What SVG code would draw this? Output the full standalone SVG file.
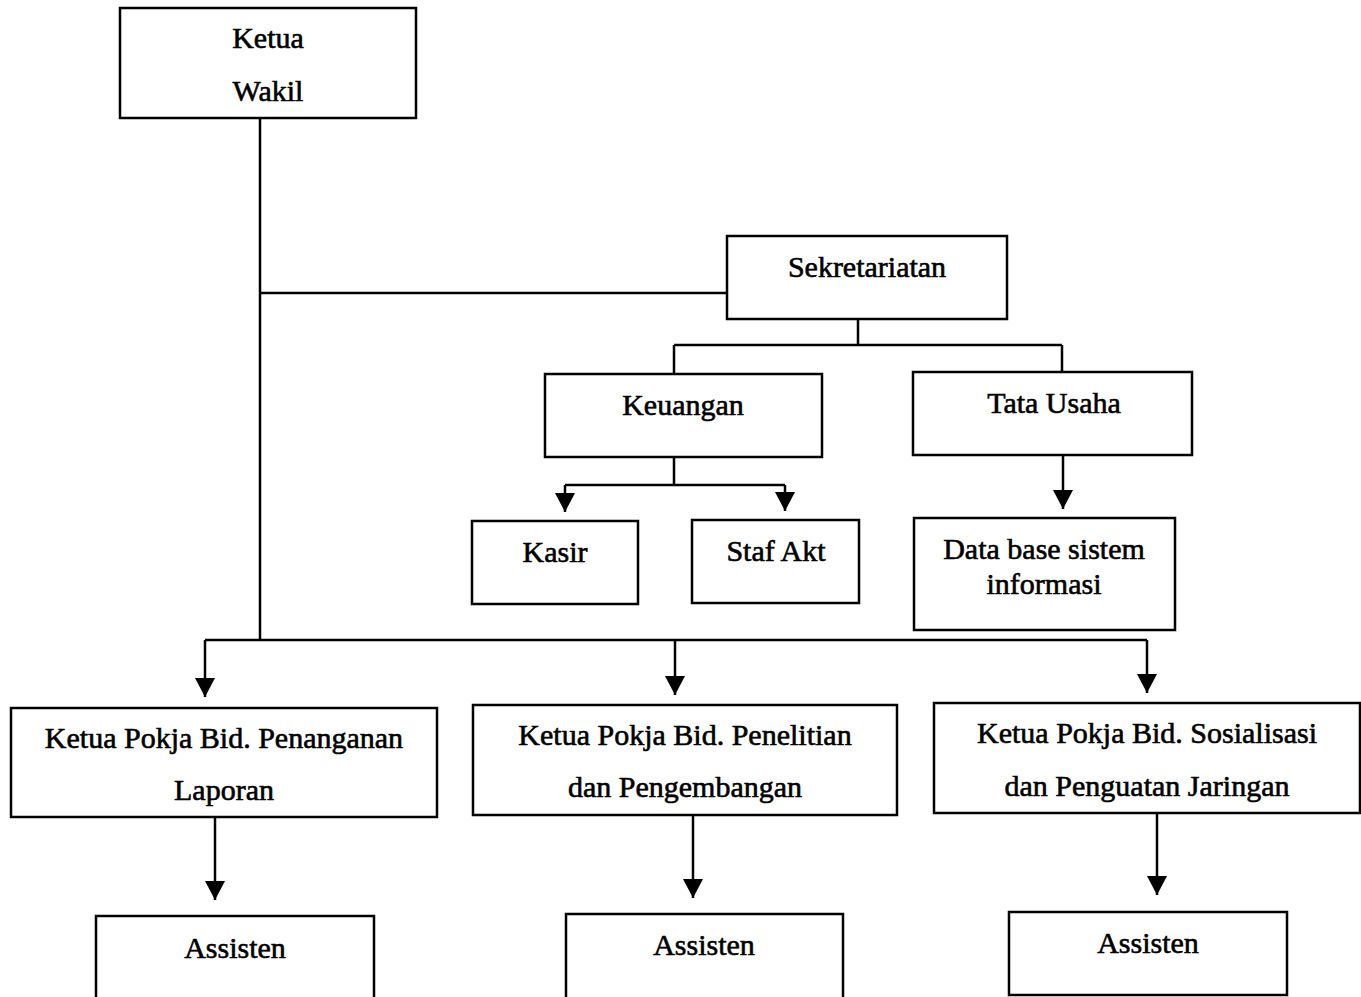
<svg xmlns="http://www.w3.org/2000/svg" width="1361" height="997" viewBox="0 0 1361 997">
<style>
.box{fill:#fff;stroke:#000;stroke-width:2.5}
.t{font-family:"Liberation Serif","Times New Roman",serif;font-size:30px;fill:#000;stroke:#000;stroke-width:0.6;text-anchor:middle}
.c{fill:none;stroke:#000;stroke-width:2.5}
</style>
<defs>
<marker id="ah" markerUnits="userSpaceOnUse" markerWidth="19" markerHeight="20" refX="19" refY="10" orient="auto" viewBox="0 0 19 20">
<path d="M0,0 L19,10 L0,20 z" fill="#000"/>
</marker>
</defs>
<rect width="1361" height="997" fill="#fff"/>
<g id="connectors">
<path class="c" d="M260,118 V640"/>
<path class="c" d="M260,293 H727"/>
<path class="c" d="M858,319 V345 M674,345 H1062 M674,345 V374 M1062,345 V372"/>
<path class="c" d="M674,457 V485 M565,485 H785"/>
<path class="c" d="M565,485 V512" marker-end="url(#ah)"/>
<path class="c" d="M785,485 V511" marker-end="url(#ah)"/>
<path class="c" d="M1063,455 V509" marker-end="url(#ah)"/>
<path class="c" d="M205,640 H1147"/>
<path class="c" d="M205,640 V697" marker-end="url(#ah)"/>
<path class="c" d="M675,640 V695" marker-end="url(#ah)"/>
<path class="c" d="M1147,640 V693" marker-end="url(#ah)"/>
<path class="c" d="M215,817 V900" marker-end="url(#ah)"/>
<path class="c" d="M693,815 V898" marker-end="url(#ah)"/>
<path class="c" d="M1157,813 V895" marker-end="url(#ah)"/>
</g>
<g id="ketua">
<rect class="box" x="120" y="8" width="296" height="110"/>
<text class="t" x="268" y="48">Ketua</text>
<text class="t" x="268" y="101">Wakil</text>
</g>
<g id="sekretariatan">
<rect class="box" x="727" y="236" width="280" height="83"/>
<text class="t" x="867" y="277">Sekretariatan</text>
</g>
<g id="keuangan">
<rect class="box" x="545" y="374" width="277" height="83"/>
<text class="t" x="683" y="415">Keuangan</text>
</g>
<g id="tatausaha">
<rect class="box" x="913" y="372" width="279" height="83"/>
<text class="t" x="1054" y="413">Tata Usaha</text>
</g>
<g id="kasir">
<rect class="box" x="472" y="521" width="166" height="83"/>
<text class="t" x="555" y="562">Kasir</text>
</g>
<g id="stafakt">
<rect class="box" x="692" y="520" width="167" height="83"/>
<text class="t" x="776" y="561">Staf Akt</text>
</g>
<g id="database">
<rect class="box" x="914" y="518" width="261" height="112"/>
<text class="t" x="1044" y="559">Data base sistem</text>
<text class="t" x="1044" y="594">informasi</text>
</g>
<g id="pokja1">
<rect class="box" x="11" y="708" width="426" height="109"/>
<text class="t" x="224" y="748">Ketua Pokja Bid. Penanganan</text>
<text class="t" x="224" y="800">Laporan</text>
</g>
<g id="pokja2">
<rect class="box" x="473" y="705" width="424" height="110"/>
<text class="t" x="685" y="745">Ketua Pokja Bid. Penelitian</text>
<text class="t" x="685" y="797">dan Pengembangan</text>
</g>
<g id="pokja3">
<rect class="box" x="934" y="703" width="426" height="110"/>
<text class="t" x="1147" y="743">Ketua Pokja Bid. Sosialisasi</text>
<text class="t" x="1147" y="796">dan Penguatan Jaringan</text>
</g>
<g id="assisten1">
<rect class="box" x="96" y="916" width="278" height="100"/>
<text class="t" x="235" y="958">Assisten</text>
</g>
<g id="assisten2">
<rect class="box" x="566" y="914" width="277" height="100"/>
<text class="t" x="704" y="955">Assisten</text>
</g>
<g id="assisten3">
<rect class="box" x="1009" y="912" width="278" height="83"/>
<text class="t" x="1148" y="953">Assisten</text>
</g>
</svg>
